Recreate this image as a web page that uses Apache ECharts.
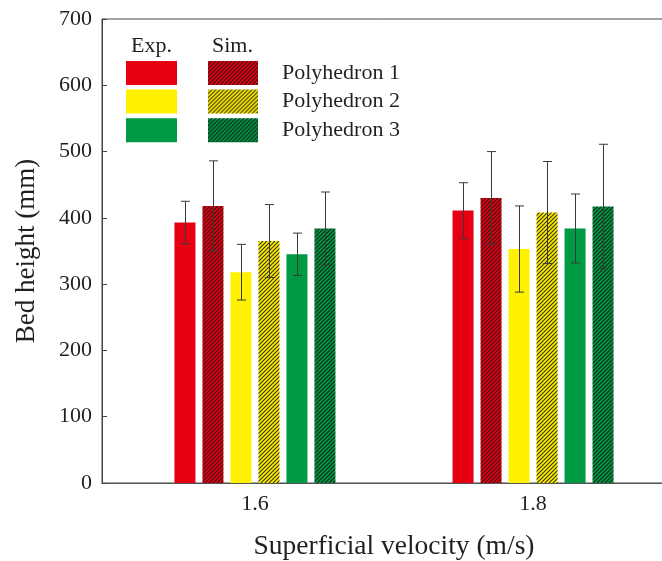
<!DOCTYPE html>
<html>
<head>
<meta charset="utf-8">
<script src="https://cdn.jsdelivr.net/npm/echarts@6/dist/echarts.min.js"></script>
<style>
  html, body { margin: 0; padding: 0; background: #fff; }
  #chart { width: 662px; height: 561px; }
</style>
</head>
<body>
<div id="chart"></div>
<script>
// Superficial velocities (m/s) where the bed height was measured / simulated
const velocities = [1.6, 1.8];
const shapeNames = ['Polyhedron 1', 'Polyhedron 2', 'Polyhedron 3'];

// Bed height (mm): mean and error half-range
const expP1 = [393, 411];
const expP1Err = [32, 42];
const simP1 = [418, 430];
const simP1Err = [68, 70];
const expP2 = [318, 353];
const expP2Err = [42, 65];
const simP2 = [365, 408];
const simP2Err = [55, 77];
const expP3 = [345, 384];
const expP3Err = [32, 52];
const simP3 = [384, 417];
const simP3Err = [55, 94];

const yTicks = [0, 100, 200, 300, 400, 500, 600, 700];

const FONT = 'Liberation Serif';
const TEXT = '#231f20';
const colors = ['#e60012', '#fff100', '#009944'];

// Diagonal hatch tile used for the simulated bars
function hatch(color) {
  const s = 4;
  const c = document.createElement('canvas');
  c.width = s; c.height = s;
  const g = c.getContext('2d');
  g.fillStyle = color;
  g.fillRect(0, 0, s, s);
  g.strokeStyle = 'rgba(25,20,20,0.85)';
  g.lineWidth = 1.2;
  g.beginPath();
  g.moveTo(-1, s + 1); g.lineTo(s + 1, -1);
  g.moveTo(-1, 1); g.lineTo(1, -1);
  g.moveTo(s - 1, s + 1); g.lineTo(s + 1, s - 1);
  g.stroke();
  return { image: c, repeat: 'repeat' };
}

const BAR_W = 21;
const BAR_GAP = 1 / 3;

const groups = [
  { name: 'Exp. ' + shapeNames[0], mean: expP1, err: expP1Err, color: colors[0] },
  { name: 'Sim. ' + shapeNames[0], mean: simP1, err: simP1Err, color: hatch(colors[0]) },
  { name: 'Exp. ' + shapeNames[1], mean: expP2, err: expP2Err, color: colors[1] },
  { name: 'Sim. ' + shapeNames[1], mean: simP2, err: simP2Err, color: hatch(colors[1]) },
  { name: 'Exp. ' + shapeNames[2], mean: expP3, err: expP3Err, color: colors[2] },
  { name: 'Sim. ' + shapeNames[2], mean: simP3, err: simP3Err, color: hatch(colors[2]) }
];

const barSeries = groups.map(gr => ({
  name: gr.name,
  type: 'bar',
  barWidth: BAR_W,
  barGap: (BAR_GAP * 100) + '%',
  itemStyle: { color: gr.color },
  data: velocities.map((v, i) => [v, gr.mean[i]])
}));

// error bar data: [x, mean, halfRange, barIndex]
const errData = [];
groups.forEach((gr, k) => {
  velocities.forEach((v, i) => errData.push([v, gr.mean[i], gr.err[i], k]));
});

const errSeries = {
  type: 'custom',
  name: 'error',
  z: 5,
  clip: false,
  data: errData,
  encode: { x: 0, y: [1] },
  renderItem: function (params, api) {
    const x = api.value(0), m = api.value(1), e = api.value(2), k = api.value(3);
    const step = BAR_W * (1 + BAR_GAP);
    const off = (k - (groups.length - 1) / 2) * step;
    const top = api.coord([x, m + e]);
    const bot = api.coord([x, m - e]);
    const cx = Math.round(top[0] + off) + 0.5;
    const cap = 4.5;
    const st = { stroke: '#3a3a3a', lineWidth: 1 };
    return {
      type: 'group',
      children: [
        { type: 'line', shape: { x1: cx, y1: top[1], x2: cx, y2: bot[1] }, style: st },
        { type: 'line', shape: { x1: cx - cap, y1: top[1], x2: cx + cap, y2: top[1] }, style: st },
        { type: 'line', shape: { x1: cx - cap, y1: bot[1], x2: cx + cap, y2: bot[1] }, style: st }
      ]
    };
  }
};

const chart = echarts.init(document.getElementById('chart'), null, { renderer: 'canvas' });

chart.setOption({
  animation: false,
  backgroundColor: '#fff',
  textStyle: { fontFamily: FONT, color: TEXT },
  grid: {
    left: 102, top: 19, height: 464, width: 584,
    outerBoundsMode: 'none',
    containLabel: false,
    show: true, borderColor: '#444', borderWidth: 1, backgroundColor: 'transparent'
  },
  legend: [
    {
      data: groups.filter((g, k) => k % 2 === 0).map(g => g.name),
      orient: 'vertical', left: 126, top: 61, padding: 0,
      itemWidth: 51, itemHeight: 24, itemGap: 4.6,
      icon: 'rect', selectedMode: false,
      formatter: () => '',
      textStyle: { fontSize: 22, fontFamily: FONT }
    },
    {
      data: groups.filter((g, k) => k % 2 === 1).map(g => g.name),
      orient: 'vertical', left: 208, top: 61, padding: 0,
      itemWidth: 50, itemHeight: 24, itemGap: 4.6,
      icon: 'rect', selectedMode: false,
      formatter: name => name.replace('Sim. ', ''),
      textStyle: { fontSize: 22, fontFamily: FONT, color: TEXT, padding: [0, 0, 0, 19] }
    }
  ],
  graphic: [
    { type: 'text', left: 131, top: 35, style: { text: 'Exp.', font: '22px "Liberation Serif"', fill: TEXT } },
    { type: 'text', left: 212, top: 35, style: { text: 'Sim.', font: '22px "Liberation Serif"', fill: TEXT } }
  ],
  xAxis: {
    type: 'value',
    min: 1.49, max: 1.91,
    name: 'Superficial velocity (m/s)',
    nameLocation: 'middle',
    nameGap: 50,
    nameTextStyle: { fontSize: 27.5, fontFamily: FONT, color: TEXT },
    axisLine: { lineStyle: { color: '#555', width: 1.2 } },
    axisTick: { show: false },
    splitLine: { show: false },
    axisLabel: {
      customValues: velocities,
      formatter: v => v.toFixed(1),
      fontSize: 22, fontFamily: FONT, color: TEXT, margin: 10
    }
  },
  yAxis: {
    type: 'value',
    min: yTicks[0], max: yTicks[yTicks.length - 1], interval: yTicks[1] - yTicks[0],
    name: 'Bed height (mm)',
    nameLocation: 'middle',
    nameRotate: 90,
    nameGap: 62,
    nameTextStyle: { fontSize: 27, fontFamily: FONT, color: TEXT },
    axisLine: { show: true, lineStyle: { color: '#444', width: 1 } },
    axisTick: { show: true, inside: true, length: 5, lineStyle: { color: '#444' } },
    splitLine: { show: false },
    axisLabel: { fontSize: 22, fontFamily: FONT, color: TEXT, margin: 10 }
  },
  series: barSeries.concat([errSeries])
});
</script>
</body>
</html>
